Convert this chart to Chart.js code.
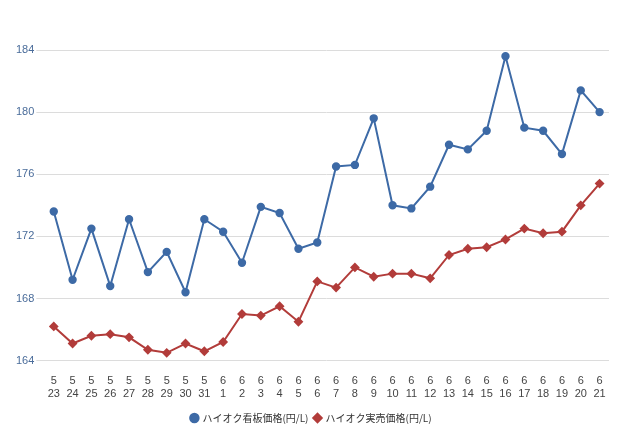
<!DOCTYPE html>
<html>
<head>
<meta charset="utf-8">
<script src="https://cdn.jsdelivr.net/npm/chart.js@4"></script>
<style>
  body { margin: 0; background: #fff; }
  #wrap { width: 640px; height: 435px; }
</style>
</head>
<body>
<div id="wrap"><canvas id="myChart"></canvas></div>
<script>
var months = ["5","5","5","5","5","5","5","5","5","6","6","6","6","6","6","6","6","6","6","6","6","6","6","6","6","6","6","6","6","6"]
var days = ["23","24","25","26","27","28","29","30","31","1","2","3","4","5","6","7","8","9","10","11","12","13","14","15","16","17","18","19","20","21"]
var signPrice = [173.6,169.2,172.5,168.8,173.1,169.7,171.0,168.4,173.1,172.3,170.3,173.9,173.5,171.2,171.6,176.5,176.6,179.6,174.0,173.8,175.2,177.9,177.6,178.8,183.6,179.0,178.8,177.3,181.4,180.0]
var realPrice = [166.2,165.1,165.6,165.7,165.5,164.7,164.5,165.1,164.6,165.2,167.0,166.9,167.5,166.5,169.1,168.7,170.0,169.4,169.6,169.6,169.3,170.8,171.2,171.3,171.8,172.5,172.2,172.3,174.0,175.4]

var labels = []
for (var i = 0; i < months.length; i++) labels.push([months[i], days[i]])

var ctx = document.getElementById("myChart").getContext("2d")
var chart = new Chart(ctx, {
  type: "line",
  data: {
    labels: labels,
    datasets: [
      {
        label: "ハイオク看板価格(円/L)",
        data: signPrice,
        borderColor: "#3d6aa6",
        backgroundColor: "#3d6aa6",
        borderWidth: 2,
        pointRadius: 3.2,
        pointStyle: "circle",
        tension: 0
      },
      {
        label: "ハイオク実売価格(円/L)",
        data: realPrice,
        borderColor: "#b23c3a",
        backgroundColor: "#b23c3a",
        borderWidth: 2,
        pointRadius: 3.5,
        pointStyle: "rectRot",
        tension: 0
      }
    ]
  },
  options: {
    responsive: true,
    maintainAspectRatio: false,
    animation: false,
    layout: { padding: { left: 14, right: 31, top: 50, bottom: 2 } },
    plugins: {
      legend: {
        position: "bottom",
        labels: {
          usePointStyle: true,
          boxWidth: 6,
          boxHeight: 6,
          padding: 6,
          color: "#333",
          font: { family: "Noto Sans CJK JP", size: 10 }
        }
      },
      tooltip: { enabled: false }
    },
    scales: {
      x: {
        offset: true,
        grid: { display: false },
        border: { display: false },
        ticks: { color: "#444", font: { family: "Liberation Sans", size: 11 }, maxRotation: 0, autoSkip: false, padding: 6 }
      },
      y: {
        min: 164,
        max: 184,
        grid: { color: "#dcdcdc" },
        border: { display: false },
        ticks: { stepSize: 4, color: "#4a6c9a", font: { family: "Liberation Sans", size: 11 }, padding: 2 }
      }
    }
  }
})
</script>
</body>
</html>
